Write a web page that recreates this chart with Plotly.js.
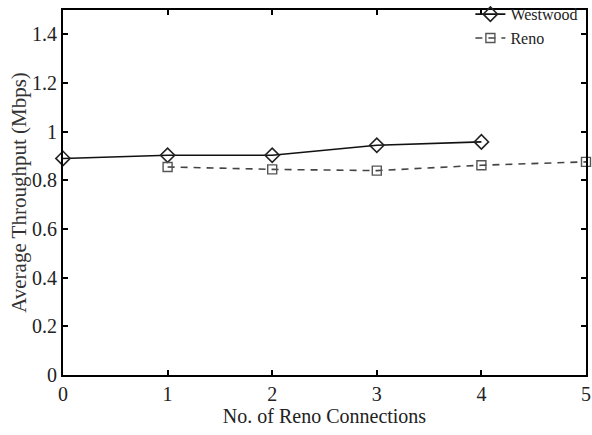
<!DOCTYPE html>
<html>
<head>
<meta charset="utf-8">
<script src="https://cdn.plot.ly/plotly-3.0.1.min.js"></script>
<style>html,body{margin:0;padding:0;background:#fff;}#chart{width:592px;height:435px;}</style>
</head>
<body>
<div id="chart"></div>
<script>
const westwoodX = [0, 1, 2, 3, 4];
const westwoodY = [0.89, 0.903, 0.903, 0.944, 0.958];
const renoX = [1, 2, 3, 4, 5];
const renoY = [0.855, 0.845, 0.84, 0.862, 0.876];
const xTicks = [0, 1, 2, 3, 4, 5];
const yTicks = [0, 0.2, 0.4, 0.6, 0.8, 1, 1.2, 1.4];
const yTickText = ['0', '0.2', '0.4', '0.6', '0.8', '1', '1.2', '1.4'];

const font = 'Liberation Serif, Times New Roman, serif';

const traces = [
  {
    x: westwoodX, y: westwoodY, name: 'Westwood', type: 'scatter', mode: 'lines+markers',
    line: {color: '#111', width: 1.6, dash: 'solid'},
    marker: {symbol: 'diamond-open', size: 11, color: '#222', line: {width: 1.6, color: '#222'}},
    cliponaxis: false
  },
  {
    x: renoX, y: renoY, name: 'Reno', type: 'scatter', mode: 'lines+markers',
    line: {color: '#444', width: 1.6, dash: '7px,6px'},
    marker: {symbol: 'square-open', size: 9, color: '#555', line: {width: 1.4, color: '#555'}},
    cliponaxis: false
  }
];

const axisCommon = {
  showgrid: false, zeroline: false, showline: true, linecolor: '#000', linewidth: 2,
  mirror: 'ticks', ticks: 'inside', ticklen: 5, tickwidth: 2, tickcolor: '#000',
  tickfont: {family: font, size: 20, color: '#222'}
};

const layout = {
  width: 592, height: 435,
  margin: {l: 63, r: 6, t: 10, b: 60, autoexpand: false},
  paper_bgcolor: '#fff', plot_bgcolor: '#fff',
  showlegend: true,
  legend: {
    x: 0.995, xanchor: 'right', y: 1.035, yanchor: 'top',
    bgcolor: 'rgba(0,0,0,0)', borderwidth: 0,
    font: {family: font, size: 16, color: '#222'},
    tracegroupgap: 0, itemwidth: 30
  },
  xaxis: Object.assign({}, axisCommon, {
    range: [0, 5], tickvals: xTicks, ticktext: xTicks.map(String),
    title: {text: 'No. of Reno Connections', font: {family: font, size: 20, color: '#222'}, standoff: 0}
  }),
  yaxis: Object.assign({}, axisCommon, {
    range: [0, 1.5], tickvals: yTicks, ticktext: yTickText,
    title: {text: 'Average Throughput (Mbps)', font: {family: font, size: 21, color: '#333'}, standoff: 0}
  })
};

Plotly.newPlot('chart', traces, layout, {staticPlot: true, displayModeBar: false});
</script>
</body>
</html>
